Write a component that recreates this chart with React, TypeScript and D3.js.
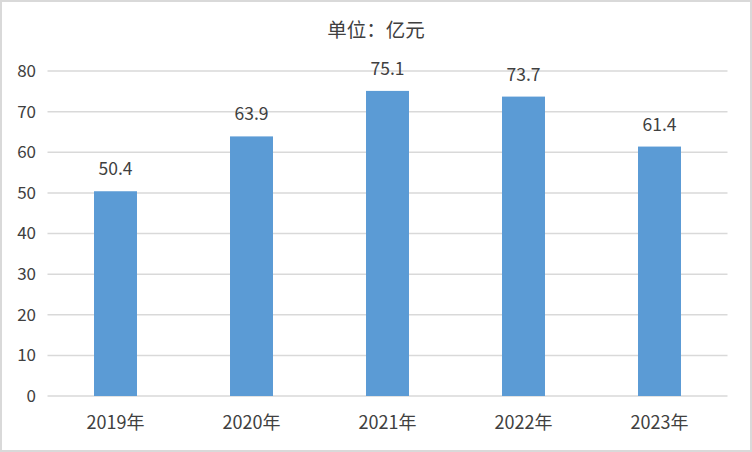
import React from "react";
import * as d3 from "d3";

const categories = ["2019年", "2020年", "2021年", "2022年", "2023年"];
const values = [50.4, 63.9, 75.1, 73.7, 61.4];
const yTicks = [0, 10, 20, 30, 40, 50, 60, 70, 80];
const title = "单位：亿元";

export default function App() {
  const W = 752, H = 452;
  const left = 47.5, right = 727.5, top = 71, bottom = 396;
  const x = d3.scaleBand<string>().domain(categories).range([left, right]).paddingInner(0.684).paddingOuter(0.342);
  const y = d3.scaleLinear().domain([0, 80]).range([bottom, top]);
  const font = "'Microsoft YaHei', 'Noto Sans CJK SC', 'DejaVu Sans', sans-serif";
  const txt = "#404040";
  return (
    <svg width={W} height={H} style={{ position: "absolute", left: 0, top: 0 }} fontFamily={font}>
      <rect x={1} y={1} width={W - 2} height={H - 2} fill="#fff" stroke="#d9d9d9" strokeWidth={2} />
      <text x={W / 2} y={37} textAnchor="middle" fontSize={19.5} fill={txt}>{title}</text>
      {yTicks.map((t) => (
        <g key={t}>
          <line x1={left} x2={right} y1={y(t)} y2={y(t)} stroke="#d9d9d9" strokeWidth={1.5} />
          <text x={36} y={y(t)} dy="0.35em" textAnchor="end" fontSize={17} fill={txt}>{t}</text>
        </g>
      ))}
      {categories.map((c, i) => (
        <g key={c}>
          <rect x={x(c)} y={y(values[i])} width={x.bandwidth()} height={y(0) - y(values[i])} fill="#5b9bd5" />
          <text x={(x(c) as number) + x.bandwidth() / 2} y={y(values[i]) - 16} textAnchor="middle" fontSize={17.5} fill={txt}>{values[i].toFixed(1)}</text>
          <text x={(x(c) as number) + x.bandwidth() / 2} y={429} textAnchor="middle" fontSize={18} fill={txt}>{c}</text>
        </g>
      ))}
    </svg>
  );
}
